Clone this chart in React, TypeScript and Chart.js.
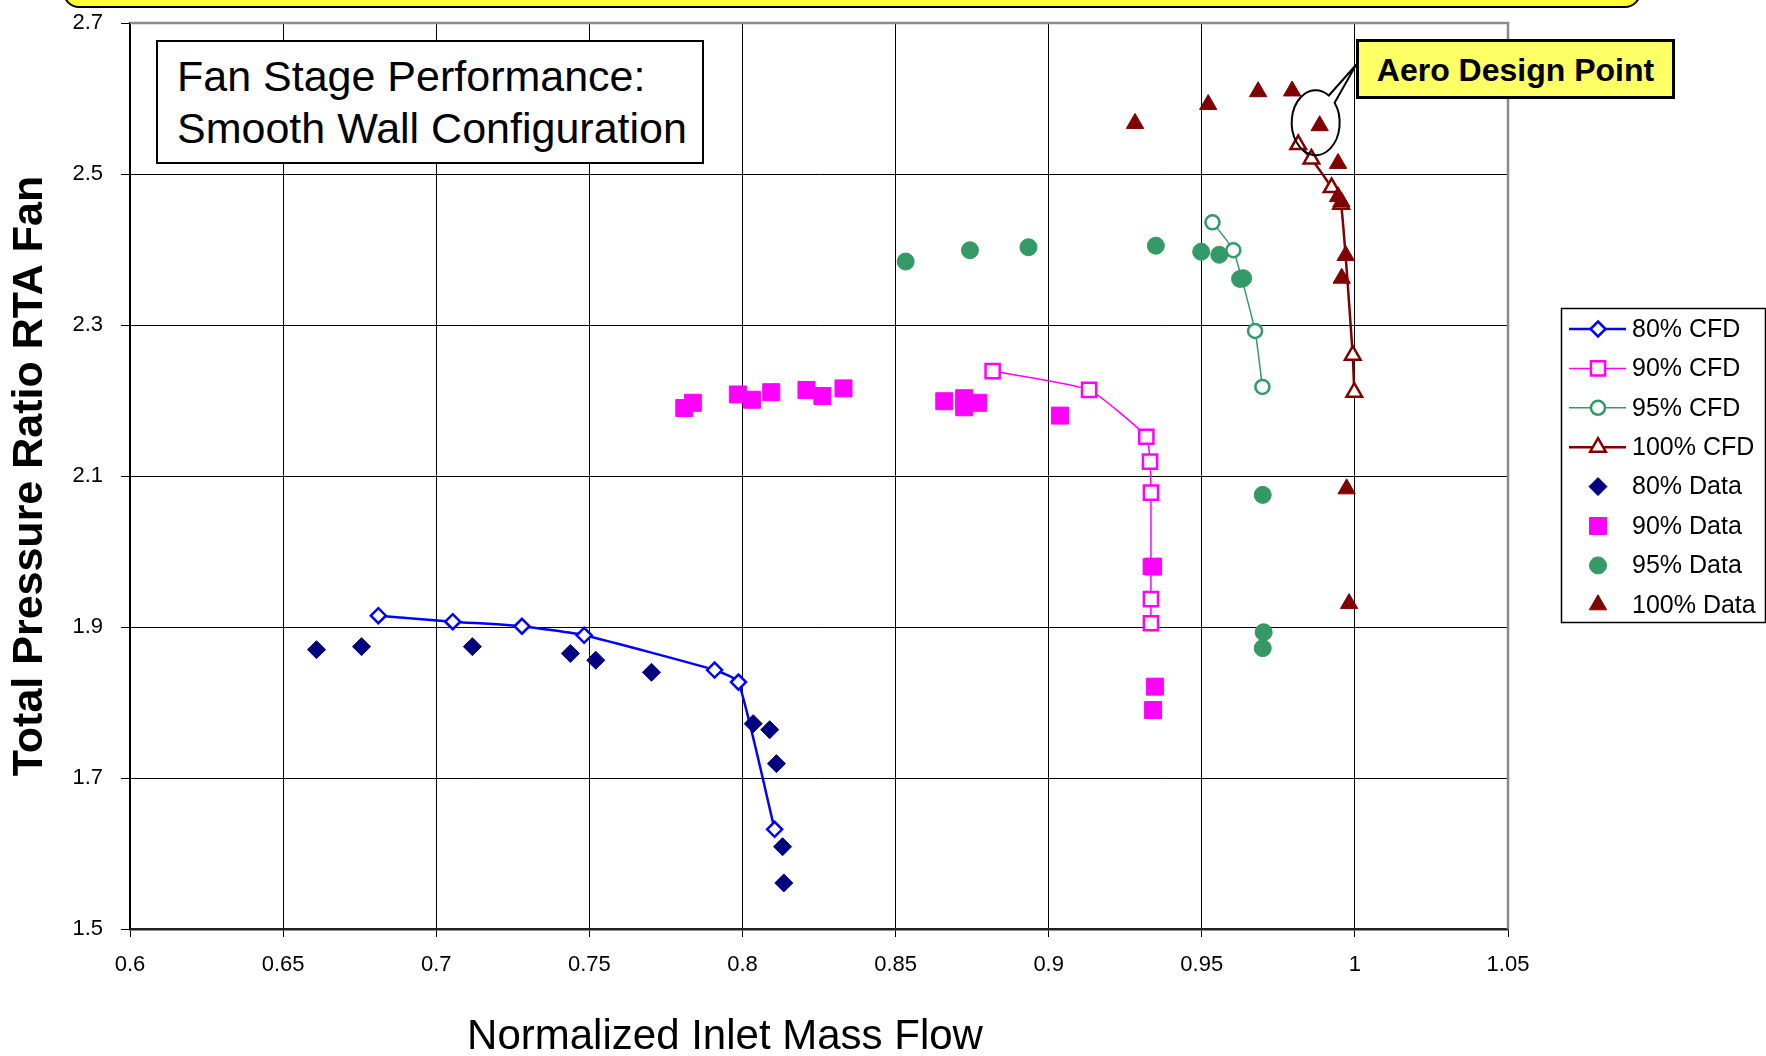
import React, { useEffect, useRef } from 'react';
import { Chart, registerables } from 'chart.js';

Chart.register(...registerables);

const FONT = '"Liberation Sans", Arial, Helvetica, sans-serif';

const X_TICKS = [0.6, 0.65, 0.7, 0.75, 0.8, 0.85, 0.9, 0.95, 1, 1.05];
const Y_TICKS = [1.5, 1.7, 1.9, 2.1, 2.3, 2.5, 2.7];

const X_TITLE = 'Normalized Inlet Mass Flow';
const Y_TITLE = 'Total Pressure Ratio RTA Fan';
const CHART_TITLE = ['Fan Stage Performance:', 'Smooth Wall Configuration'];
const CALLOUT_TEXT = 'Aero Design Point';

const SERIES_LABELS = ['80% CFD', '90% CFD', '95% CFD', '100% CFD', '80% Data', '90% Data', '95% Data', '100% Data'];

// CFD speed lines
const CFD80_X = [0.6811, 0.7054, 0.728, 0.7483, 0.7909, 0.7987, 0.8105];
const CFD80_Y = [1.915, 1.907, 1.901, 1.889, 1.843, 1.827, 1.632];

const CFD90_X = [0.8817, 0.9132, 0.9319, 0.9331, 0.9334, 0.9334, 0.9334, 0.9334];
const CFD90_Y = [2.239, 2.214, 2.152, 2.119, 2.078, 1.98, 1.937, 1.905];

const CFD95_X = [0.9535, 0.9603, 0.9674, 0.9698];
const CFD95_Y = [2.436, 2.399, 2.292, 2.218];

const CFD100_X = [0.9815, 0.9858, 0.9924, 0.9955, 0.9993, 0.9998];
const CFD100_Y = [2.539, 2.52, 2.482, 2.46, 2.26, 2.211];

// Test data
const D80_X = [0.6609, 0.6756, 0.7118, 0.7438, 0.7521, 0.7703, 0.8035, 0.8089, 0.8111, 0.8131, 0.8135];
const D80_Y = [1.87, 1.874, 1.874, 1.865, 1.856, 1.84, 1.772, 1.764, 1.719, 1.609, 1.561];

const D90_X = [0.781, 0.7838, 0.7985, 0.8031, 0.8094, 0.8209, 0.8261, 0.833, 0.8659, 0.8724, 0.8724, 0.877, 0.9037, 0.9341, 0.9347, 0.9341];
const D90_Y = [2.19, 2.197, 2.208, 2.201, 2.211, 2.214, 2.206, 2.216, 2.199, 2.203, 2.191, 2.197, 2.18, 1.98, 1.821, 1.79];

const D95_X = [0.8533, 0.8743, 0.8934, 0.935, 0.9498, 0.9557, 0.9625, 0.9635, 0.9699, 0.9702, 0.9699];
const D95_Y = [2.384, 2.399, 2.403, 2.405, 2.397, 2.393, 2.361, 2.362, 2.075, 1.893, 1.872];

const D100_X = [0.9282, 0.9521, 0.9684, 0.9795, 0.9885, 0.9945, 0.9945, 0.9956, 0.997, 0.9957, 0.9973, 0.9981];
const D100_Y = [2.567, 2.592, 2.609, 2.61, 2.564, 2.514, 2.47, 2.463, 2.392, 2.362, 2.083, 1.931];

// Aero design point (circled data point)
const DESIGN_X = 0.9885;
const DESIGN_Y = 2.564;

const pts = (xs: number[], ys: number[]) => xs.map((x, i) => ({ x, y: ys[i] }));

function drawMarker(ctx: CanvasRenderingContext2D, style: string, x: number, y: number, r: number, fill: string, stroke: string, bw: number) {
  ctx.beginPath();
  if (style === 'circle') {
    ctx.arc(x, y, r, 0, Math.PI * 2);
  } else if (style === 'rect') {
    const s = r * Math.SQRT1_2;
    ctx.rect(x - s, y - s, 2 * s, 2 * s);
  } else if (style === 'rectRot') {
    ctx.moveTo(x, y - r);
    ctx.lineTo(x + r, y);
    ctx.lineTo(x, y + r);
    ctx.lineTo(x - r, y);
    ctx.closePath();
  } else if (style === 'triangle') {
    ctx.moveTo(x, y - r);
    ctx.lineTo(x + r * Math.sin((2 * Math.PI) / 3), y - r * Math.cos((2 * Math.PI) / 3));
    ctx.lineTo(x + r * Math.sin((4 * Math.PI) / 3), y - r * Math.cos((4 * Math.PI) / 3));
    ctx.closePath();
  }
  ctx.fillStyle = fill;
  ctx.fill();
  if (bw > 0) {
    ctx.lineWidth = bw;
    ctx.strokeStyle = stroke;
    ctx.stroke();
  }
}

const framePlugin = {
  id: 'frame',
  beforeDatasetsDraw(chart: any) {
    const { ctx, chartArea } = chart;
    ctx.save();
    ctx.strokeStyle = '#8a8a8a';
    ctx.lineWidth = 2.5;
    ctx.beginPath();
    ctx.moveTo(chartArea.left, chartArea.top);
    ctx.lineTo(chartArea.right, chartArea.top);
    ctx.lineTo(chartArea.right, chartArea.bottom);
    ctx.stroke();
    ctx.restore();
  },
};

const overlayPlugin = {
  id: 'overlay',
  afterDraw(chart: any) {
    const { ctx } = chart;
    ctx.save();

    // x-axis title
    ctx.fillStyle = '#000';
    ctx.font = '42px ' + FONT;
    ctx.textAlign = 'center';
    ctx.textBaseline = 'middle';
    ctx.fillText(X_TITLE, 725, 1037);

    // legend
    const lx = 1561, ly = 308, lw = 204, lh = 314;
    ctx.fillStyle = '#fff';
    ctx.fillRect(lx, ly, lw, lh);
    ctx.strokeStyle = '#000';
    ctx.lineWidth = 1.5;
    ctx.strokeRect(lx + 0.5, ly + 0.5, lw, lh);
    chart.data.datasets.forEach((ds: any, i: number) => {
      const y = 329 + i * 39.4;
      if (ds.showLine) {
        ctx.beginPath();
        ctx.strokeStyle = ds.borderColor;
        ctx.lineWidth = ds.borderWidth;
        ctx.moveTo(1569, y);
        ctx.lineTo(1626, y);
        ctx.stroke();
      }
      drawMarker(ctx, ds.pointStyle, 1598, y, ds.legendRadius, ds.pointBackgroundColor, ds.pointBorderColor, ds.pointBorderWidth);
      ctx.fillStyle = '#000';
      ctx.font = '25px ' + FONT;
      ctx.textAlign = 'left';
      ctx.textBaseline = 'middle';
      ctx.fillText(ds.label, 1632, y + 1);
    });

    // callout around the design point
    const px = chart.scales.x.getPixelForValue(DESIGN_X);
    const py = chart.scales.y.getPixelForValue(DESIGN_Y);
    const cx = px - 4, cy = py - 3, rx = 24, ry = 32.5;
    const tB = Math.atan2(-0.615, 0.792);
    const tA = Math.atan2(-0.871, 0.571);
    ctx.beginPath();
    ctx.ellipse(cx, cy, rx, ry, 0, tB, tA + Math.PI * 2);
    ctx.lineTo(1356, 65);
    ctx.closePath();
    ctx.strokeStyle = '#000';
    ctx.lineWidth = 2;
    ctx.stroke();

    ctx.restore();
  },
};

export default function App() {
  const canvasRef = useRef<HTMLCanvasElement | null>(null);

  useEffect(() => {
    const canvas = canvasRef.current;
    if (!canvas) return;
    Chart.defaults.font.family = FONT;
    Chart.defaults.color = '#000';

    const cfd = (i: number, xs: number[], ys: number[], color: string, lineW: number, style: string, r: number) => ({
      label: SERIES_LABELS[i],
      data: pts(xs, ys),
      showLine: true,
      borderColor: color,
      borderWidth: lineW,
      backgroundColor: '#fff',
      pointStyle: style,
      pointRadius: r,
      legendRadius: r,
      pointBackgroundColor: '#fff',
      pointBorderColor: color,
      pointBorderWidth: 2.5,
      tension: 0.15,
      order: 1,
    });
    const dat = (i: number, xs: number[], ys: number[], color: string, style: string, r: number) => ({
      label: SERIES_LABELS[i],
      data: pts(xs, ys),
      showLine: false,
      borderColor: color,
      backgroundColor: color,
      pointStyle: style,
      pointRadius: r,
      legendRadius: r,
      pointBackgroundColor: color,
      pointBorderColor: color,
      pointBorderWidth: 1,
      order: 0,
    });

    const datasets: any[] = [
      cfd(0, CFD80_X, CFD80_Y, '#0000FF', 2.5, 'rectRot', 7.5),
      cfd(1, CFD90_X, CFD90_Y, '#FF00FF', 1.5, 'rect', 10),
      cfd(2, CFD95_X, CFD95_Y, '#339966', 1.5, 'circle', 7),
      cfd(3, CFD100_X, CFD100_Y, '#800000', 2.5, 'triangle', 9),
      dat(4, D80_X, D80_Y, '#000080', 'rectRot', 9),
      dat(5, D90_X, D90_Y, '#FF00FF', 'rect', 12),
      dat(6, D95_X, D95_Y, '#339966', 'circle', 8.5),
      dat(7, D100_X, D100_Y, '#800000', 'triangle', 10),
    ];

    const chart = new Chart(canvas, {
      type: 'scatter',
      data: { datasets },
      options: {
        animation: false,
        responsive: false,
        devicePixelRatio: 1,
        layout: { padding: { left: 0, top: 23, right: 258, bottom: 0 } },
        plugins: {
          legend: { display: false },
          tooltip: { enabled: false },
          title: { display: false },
        },
        scales: {
          x: {
            type: 'linear',
            min: 0.6,
            max: 1.05,
            afterBuildTicks: (scale: any) => {
              scale.ticks = X_TICKS.map((v) => ({ value: v }));
            },
            afterFit: (scale: any) => {
              scale.height = 127;
              scale.paddingLeft = 0;
              scale.paddingRight = 0;
            },
            ticks: {
              font: { size: 22, family: FONT },
              color: '#000',
              padding: 15,
              maxRotation: 0,
              autoSkip: false,
              callback: (v: any) => String(Number(v)),
            },
            grid: { color: '#000', lineWidth: 1, tickLength: 8, tickColor: '#000' },
            border: { display: true, color: '#222', width: 2.5 },
            title: { display: false },
          },
          y: {
            type: 'linear',
            min: 1.5,
            max: 2.7,
            afterBuildTicks: (scale: any) => {
              scale.ticks = Y_TICKS.map((v) => ({ value: v }));
            },
            afterFit: (scale: any) => {
              scale.width = 130;
              scale.paddingTop = 0;
              scale.paddingBottom = 0;
            },
            ticks: {
              font: { size: 22, family: FONT },
              color: '#000',
              padding: 18,
              autoSkip: false,
              callback: (v: any) => String(Number(v)),
            },
            grid: { color: '#000', lineWidth: 1, tickLength: 9, tickColor: '#000' },
            border: { display: true, color: '#000', width: 1.5 },
            title: {
              display: true,
              text: Y_TITLE,
              color: '#000',
              font: { size: 43, weight: 'bold', family: FONT, lineHeight: 1 },
              padding: { top: 8.5, bottom: 0 },
            },
          },
        },
      } as any,
      plugins: [framePlugin, overlayPlugin],
    });

    return () => {
      chart.destroy();
    };
  }, []);

  return (
    <div
      style={{
        position: 'absolute',
        left: 0,
        top: 0,
        width: 1766,
        height: 1056,
        overflow: 'hidden',
        background: '#fff',
        fontFamily: FONT,
      }}
    >
      <canvas ref={canvasRef} width={1766} height={1056} style={{ position: 'absolute', left: 0, top: 0, width: 1766, height: 1056 }} />
      <div
        style={{
          position: 'absolute',
          left: 63,
          top: -40,
          width: 1578,
          height: 48,
          boxSizing: 'border-box',
          border: '2px solid #000',
          borderRadius: 16,
          background: '#FFFF33',
        }}
      />
      <div
        style={{
          position: 'absolute',
          left: 156,
          top: 40,
          width: 548,
          height: 124,
          boxSizing: 'border-box',
          border: '2.5px solid #000',
          background: '#fff',
          paddingLeft: 19,
          paddingTop: 8,
          fontSize: 43,
          lineHeight: '52px',
          color: '#000',
          whiteSpace: 'nowrap',
        }}
      >
        <div>{CHART_TITLE[0]}</div>
        <div>{CHART_TITLE[1]}</div>
      </div>
      <div
        style={{
          position: 'absolute',
          left: 1356,
          top: 39,
          width: 319,
          height: 60,
          boxSizing: 'border-box',
          border: '3px solid #000',
          background: '#FFFF66',
          display: 'flex',
          alignItems: 'center',
          justifyContent: 'center',
          fontSize: 32,
          fontWeight: 'bold',
          color: '#000',
          paddingTop: 2,
          whiteSpace: 'nowrap',
        }}
      >
        {CALLOUT_TEXT}
      </div>
    </div>
  );
}
